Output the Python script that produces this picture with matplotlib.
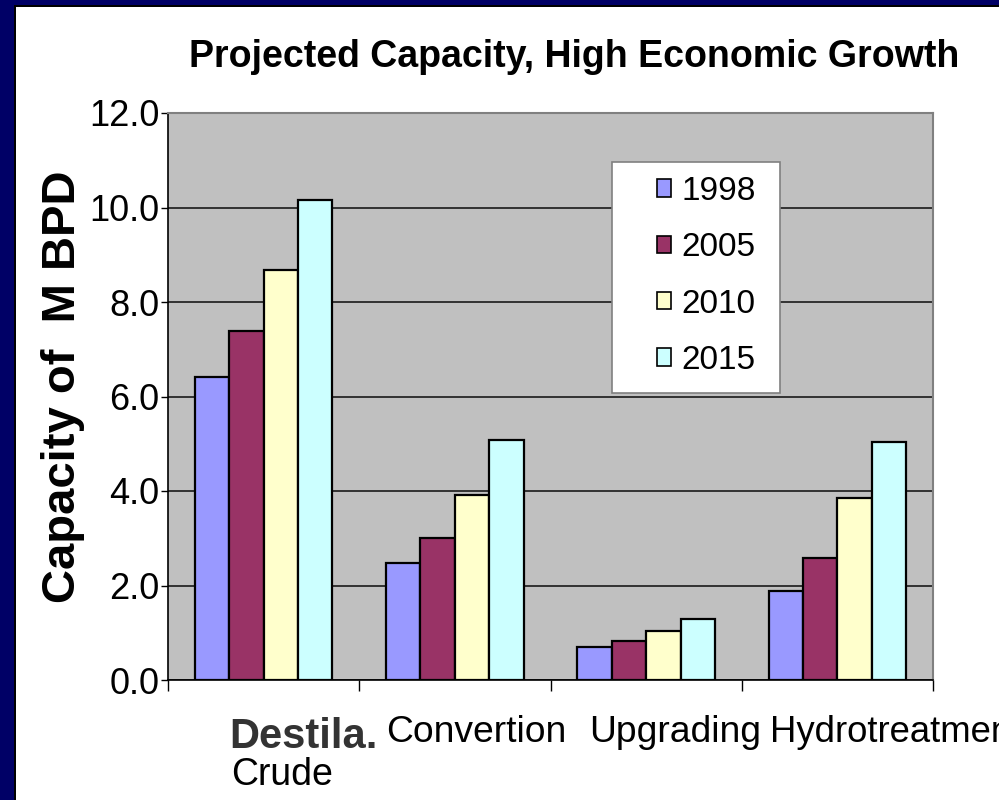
import matplotlib
matplotlib.use("Agg")
import matplotlib.pyplot as plt
from matplotlib.patches import Rectangle, Patch
from matplotlib.transforms import blended_transform_factory
import numpy as np

plt.rcParams['font.family'] = ['Liberation Sans', 'DejaVu Sans']

categories = ["Destila. Crude", "Convertion", "Upgrading", "Hydrotreatment"]
years = ["1998", "2005", "2010", "2015"]
v1998 = [6.42, 2.48, 0.70, 1.88]
v2005 = [7.38, 3.01, 0.83, 2.59]
v2010 = [8.68, 3.92, 1.03, 3.86]
v2015 = [10.16, 5.08, 1.30, 5.03]
series = [v1998, v2005, v2010, v2015]
colors = ["#9999FF", "#993366", "#FFFFCC", "#CCFFFF"]
yticks = [0, 2, 4, 6, 8, 10, 12]

W, H = 999, 800
fig = plt.figure(figsize=(W / 100, H / 100), dpi=100)
fig.patch.set_facecolor("white")

# slide frame: navy band with thin black inner line (left and top)
fig.patches.append(Rectangle((0, 0), 16 / W, 1, transform=fig.transFigure,
                             facecolor="black", edgecolor="none", zorder=0))
fig.patches.append(Rectangle((0, 1 - 7 / H), 1, 7 / H, transform=fig.transFigure,
                             facecolor="black", edgecolor="none", zorder=0))
fig.patches.append(Rectangle((0, 0), 14 / W, 1, transform=fig.transFigure,
                             facecolor="#000066", edgecolor="none", zorder=1))
fig.patches.append(Rectangle((0, 1 - 5 / H), 1, 5 / H, transform=fig.transFigure,
                             facecolor="#000066", edgecolor="none", zorder=1))

ax_l, ax_r, ax_t, ax_b = 168, 933, 113, 680
ax = fig.add_axes([ax_l / W, 1 - ax_b / H, (ax_r - ax_l) / W, (ax_b - ax_t) / H])
ax.set_facecolor("#C0C0C0")

x = np.arange(len(categories))
bw = 0.18
for i, (vals, c) in enumerate(zip(series, colors)):
    ax.bar(x + (i - 1.5) * bw, vals, width=bw, color=c, edgecolor="black",
           linewidth=1.6, label=years[i], zorder=3)

ax.set_xlim(-0.5, len(categories) - 0.5)
ax.set_ylim(0, 12)
ax.set_yticks(yticks)
ax.set_yticklabels([f"{t:.1f}" for t in yticks], fontsize=26)
ax.yaxis.grid(True, color="#1a1a1a", linewidth=1.2, zorder=1)
ax.set_axisbelow(True)
ax.tick_params(axis="y", direction="out", length=5, width=1, pad=1, color="black")

ax.set_xticks(np.arange(len(categories) + 1) - 0.5)
ax.set_xticklabels([])
ax.tick_params(axis="x", direction="out", length=8, width=1, color="black")

for s in ["top", "right"]:
    ax.spines[s].set_color("#808080")
    ax.spines[s].set_linewidth(1.5)
ax.spines["left"].set_color("black")
ax.spines["bottom"].set_color("black")
ax.spines["left"].set_linewidth(1.2)
ax.spines["bottom"].set_linewidth(1.2)

# category labels below the axis
tr = blended_transform_factory(ax.transData, fig.transFigure)
def fy(px):
    return 1 - px / H
ax.text(-0.18, fy(748), "Destila.", transform=tr, ha="left", va="baseline",
        fontsize=30, fontweight="bold", color="#333333")
ax.text(-0.17, fy(785), "Crude", transform=tr, ha="left", va="baseline",
        fontsize=27, color="black")
ax.text(1.11, fy(742), categories[1], transform=tr, ha="center", va="baseline",
        fontsize=26.8, color="black")
ax.text(2.15, fy(742), categories[2], transform=tr, ha="center", va="baseline",
        fontsize=26.8, color="black")
ax.text(2.65, fy(742), categories[3], transform=tr, ha="left", va="baseline",
        fontsize=26.3, color="black")

fig.text(574 / W, fy(57), "Projected Capacity, High Economic Growth",
         ha="center", va="center", fontsize=27, fontweight="bold")
fig.text(63 / W, fy(387), "Capacity of  M BPD", rotation=90,
         ha="center", va="center", fontsize=34, fontweight="bold")

# legend box and entries
fig.patches.append(Rectangle((612 / W, fy(393)), (780 - 612) / W, (393 - 162) / H,
                             transform=fig.transFigure, facecolor="white",
                             edgecolor="#808080", linewidth=1.2, zorder=5))
handles = [Patch(facecolor=c, edgecolor="black", linewidth=1.2) for c in colors]
leg = fig.legend(handles, years, loc="center left",
                 bbox_to_anchor=(657 / W, fy(276)), frameon=False,
                 fontsize=24, handlelength=0.42, handleheight=0.42,
                 handletextpad=0.3, labelspacing=0.76, borderpad=0,
                 borderaxespad=0)
leg.set_zorder(6)

fig.savefig("out.png", dpi=100)
